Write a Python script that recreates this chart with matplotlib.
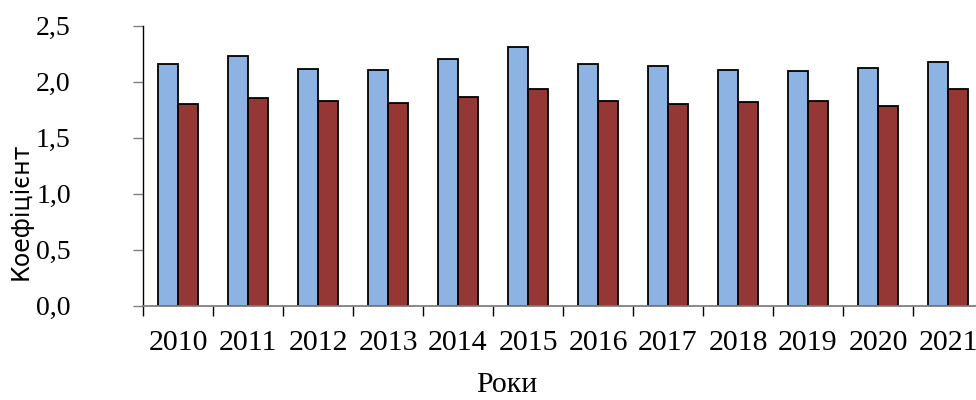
import matplotlib
matplotlib.use('Agg')
import matplotlib.pyplot as plt
import numpy as np

# Дані з графіка
years = ['2010', '2011', '2012', '2013', '2014', '2015',
         '2016', '2017', '2018', '2019', '2020', '2021']
series_blue = [2.16, 2.23, 2.11, 2.10, 2.20, 2.31, 2.16, 2.14, 2.10, 2.09, 2.12, 2.17]
series_red = [1.80, 1.85, 1.83, 1.81, 1.86, 1.93, 1.83, 1.80, 1.82, 1.83, 1.78, 1.93]
y_ticks = [0.0, 0.5, 1.0, 1.5, 2.0, 2.5]

W, H, DPI = 976, 400, 100
fig = plt.figure(figsize=(W / DPI, H / DPI), dpi=DPI)
ax = fig.add_axes([143 / W, 94.5 / H, (983 - 143) / W, 280 / H])

x = np.arange(len(years))
w = 20 / 70
ax.bar(x - w / 2, series_blue, width=w, color='#8DB3E2', edgecolor='black', linewidth=1.3)
ax.bar(x + w / 2, series_red, width=w, color='#953735', edgecolor='black', linewidth=1.3)

ax.set_xlim(-0.5, len(years) - 0.5)
ax.set_ylim(0, 2.5)

for s in ['top', 'right']:
    ax.spines[s].set_visible(False)
ax.spines['left'].set_color('black')
ax.spines['left'].set_linewidth(1.0)
ax.spines['bottom'].set_color('#808080')
ax.spines['bottom'].set_linewidth(1.3)

serif = 'Liberation Serif'
ax.set_yticks(y_ticks)
ax.set_yticklabels([f'{v:.1f}'.replace('.', ',') for v in y_ticks],
                   fontfamily=serif, fontsize=20, va='center_baseline')
ax.tick_params(axis='y', direction='out', length=7, width=1.0, color='#808080', pad=45)

# мітки між категоріями, підписи по центру
ax.set_xticks(np.arange(len(years) + 1) - 0.5)
ax.set_xticklabels([])
ax.set_xticks(x, minor=True)
ax.set_xticklabels(years, minor=True, fontfamily=serif, fontsize=21.5)
ax.tick_params(axis='x', which='major', direction='out', length=7, width=1.0, color='black')
ax.tick_params(axis='x', which='minor', length=0, pad=18)

fig.text(507 / W, 1 - 392 / H, 'Роки', fontfamily=serif, fontsize=21.5,
         ha='center', va='baseline')
fig.text(21 / W, 1 - 211 / H, 'Коефіцієнт', fontfamily='DejaVu Sans', fontsize=17,
         rotation=90, ha='center', va='center')

fig.savefig('out.png', dpi=DPI)
